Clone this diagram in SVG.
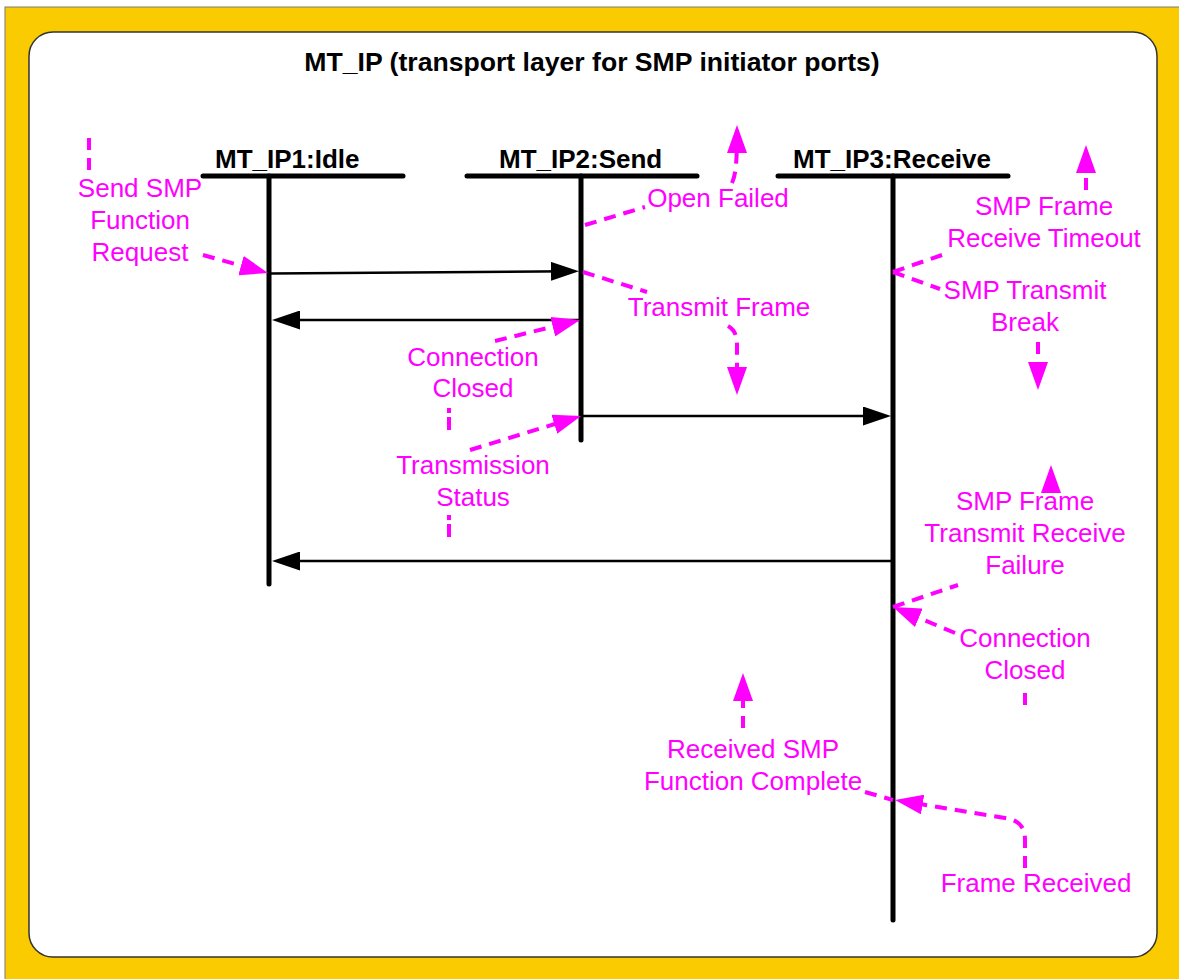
<svg xmlns="http://www.w3.org/2000/svg" width="1179" height="979" viewBox="0 0 1179 979">
<style>
text{font-family:"Liberation Sans",Arial,sans-serif;font-size:26px}
.ttl{font-weight:bold;fill:#000}
.big{font-size:26.6px}
.ev{fill:#FF00FF;text-anchor:middle}
.hdr{stroke:#000;stroke-width:5;stroke-linecap:round;fill:none}
.life{stroke:#000;stroke-width:5;stroke-linecap:round;fill:none}
.msg{stroke:#000;stroke-width:2.5;fill:none;marker-end:url(#bArrow)}
.dash{stroke:#FF00FF;stroke-width:4;stroke-dasharray:12 8;fill:none}
.stub{stroke-dasharray:5 4 14 8}
.darr{marker-end:url(#mArrow)}
</style>
<defs>
<marker id="mArrow" viewBox="0 0 28 20" refX="20" refY="10" markerWidth="28" markerHeight="20" markerUnits="userSpaceOnUse" orient="auto">
<path d="M0,0 L28,10 L0,20 z" fill="#FF00FF"/>
</marker>
<marker id="bArrow" viewBox="0 0 28 19" refX="20" refY="9.5" markerWidth="28" markerHeight="19" markerUnits="userSpaceOnUse" orient="auto">
<path d="M0,0 L28,9.5 L0,19 z" fill="#000"/>
</marker>
</defs>
<g id="frame">
<rect x="5" y="7" width="1180" height="980" fill="#FACB00" stroke="#7a7a7a" stroke-width="1"/>
<rect x="29" y="32" width="1128" height="925" rx="24" ry="24" fill="#FFFFFF" stroke="#333" stroke-width="1.5"/>
<text x="592" y="71" class="ttl big" text-anchor="middle">MT_IP (transport layer for SMP initiator ports)</text>
</g>
<g id="ip1">
<line x1="203" y1="176" x2="403" y2="176" class="hdr"/>
<line x1="269" y1="176" x2="269" y2="584" class="life"/>
<text x="215" y="168" class="ttl">MT_IP1:Idle</text>
</g>
<g id="ip2">
<line x1="467" y1="176" x2="697" y2="176" class="hdr"/>
<line x1="581" y1="176" x2="581" y2="440" class="life"/>
<text x="499" y="168" class="ttl">MT_IP2:Send</text>
</g>
<g id="ip3">
<line x1="778" y1="176" x2="1008" y2="176" class="hdr"/>
<line x1="893" y1="176" x2="893" y2="920" class="life"/>
<text x="793" y="168" class="ttl">MT_IP3:Receive</text>
</g>
<g id="ev-send-smp">
<text class="ev" x="140" y="197">Send SMP</text>
<text class="ev" x="140" y="229">Function</text>
<text class="ev" x="140" y="261">Request</text>
</g>
<g id="ev-open-failed"><text class="ev" x="718" y="207">Open Failed</text></g>
<g id="ev-transmit-frame"><text class="ev" x="719" y="316">Transmit Frame</text></g>
<g id="ev-conn-closed-1">
<text class="ev" x="473" y="366">Connection</text>
<text class="ev" x="473" y="397">Closed</text>
</g>
<g id="ev-transmission-status">
<text class="ev" x="473" y="474">Transmission</text>
<text class="ev" x="473" y="506">Status</text>
</g>
<g id="ev-rx-timeout">
<text class="ev" x="1044" y="215">SMP Frame</text>
<text class="ev" x="1044" y="247">Receive Timeout</text>
</g>
<g id="ev-tx-break">
<text class="ev" x="1025" y="299">SMP Transmit</text>
<text class="ev" x="1025" y="331">Break</text>
</g>
<g id="ev-txrx-failure">
<text class="ev" x="1025" y="510">SMP Frame</text>
<text class="ev" x="1025" y="542">Transmit Receive</text>
<text class="ev" x="1025" y="574">Failure</text>
</g>
<g id="ev-conn-closed-2">
<text class="ev" x="1025" y="647">Connection</text>
<text class="ev" x="1025" y="679">Closed</text>
</g>
<g id="ev-func-complete">
<text class="ev" x="753" y="758">Received SMP</text>
<text class="ev" x="753" y="790">Function Complete</text>
</g>
<g id="ev-frame-received"><text class="ev" x="1036" y="892">Frame Received</text></g>
<g id="connectors">
<path class="msg" d="M271,273.5 L571,271.2"/>
<path class="msg" d="M579,320 L280,320"/>
<path class="msg" d="M583,416 L883,416"/>
<path class="msg" d="M891,561 L280,561"/>
<path class="dash" d="M89,138 L89,170"/>
<path class="dash darr" d="M203,255 L260.3,270.9"/>
<path class="dash" d="M585,225 L645,207"/>
<path class="dash darr" d="M732,183 C735,176 737,168 737,133"/>
<path class="dash" d="M583,272 L647,292"/>
<path class="dash darr" d="M728,326 C735,330 737,336 737,345 L737,387"/>
<path class="dash darr" d="M495,341 L572.2,321.9"/>
<path class="dash stub" d="M449,408 L449,430"/>
<path class="dash darr" d="M470,450 L573.4,418.3"/>
<path class="dash stub" d="M449,515 L449,537"/>
<path class="dash" d="M893,272 L942,255"/>
<path class="dash darr" d="M1086,190 L1086,153"/>
<path class="dash" d="M893,272 L940,289"/>
<path class="dash darr" d="M1038,342 L1038,382"/>
<path class="dash" d="M893,607 L958,585"/>
<path class="dash darr" d="M1051,486 L1051,473"/>
<path class="dash darr" d="M955,633 L900.4,610.1"/>
<path class="dash" d="M1025,693 L1025,705"/>
<path class="dash" d="M865,792 L893,800"/>
<path class="dash darr" d="M743,728 L743,681"/>
<path class="dash darr" d="M1025,868 L1025,840 C1025,826 1018,820 1005,818 L902.9,801.3"/>
</g>
</svg>
